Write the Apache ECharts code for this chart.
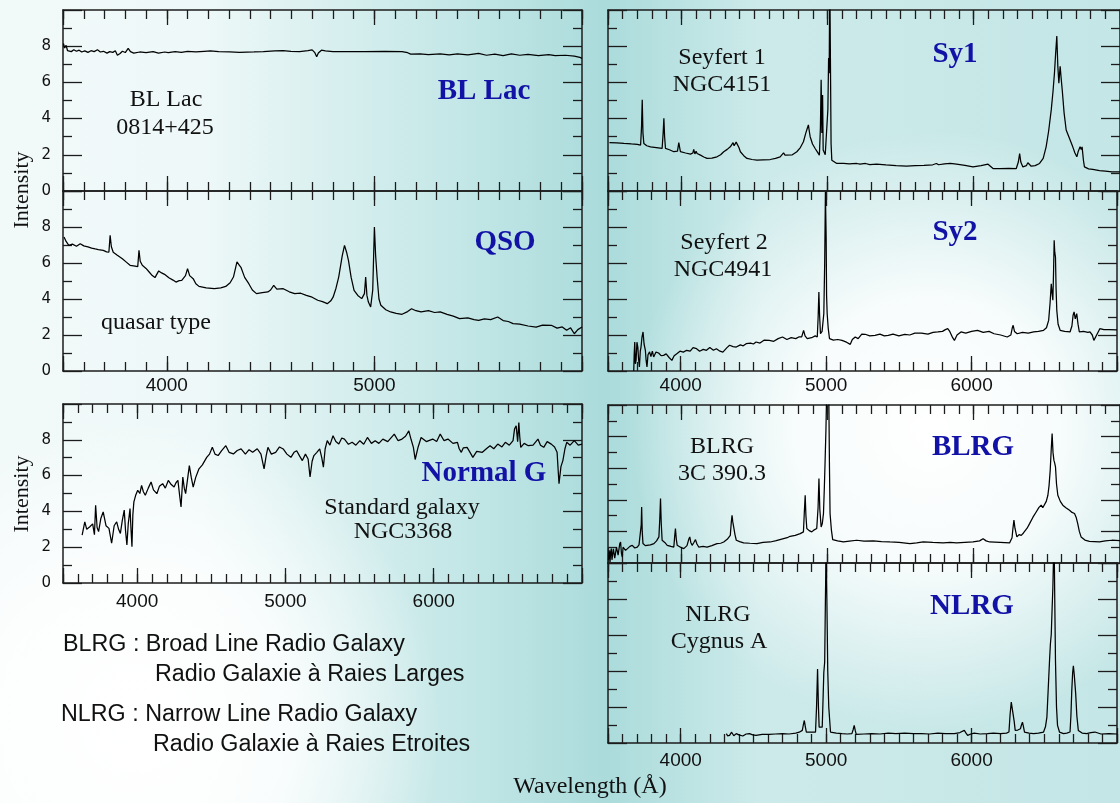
<!DOCTYPE html>
<html>
<head>
<meta charset="utf-8">
<script src="https://cdn.jsdelivr.net/npm/echarts@6/dist/echarts.min.js"></script>
<style>
    html, body {margin: 0; padding: 0; background: #fff;}
    #chart {width: 1120px; height: 803px;}
</style>
</head>
<body>
<div id="chart"></div>
<script>
// spectra, [wavelength (A), intensity]
var blLacSpec = [[3502, 8.15], [3508, 7.9], [3515, 8.05], [3522, 7.75], [3530, 7.85], [3540, 7.7], [3552, 7.8], [3565, 7.72],
    [3578, 7.78], [3590, 7.68], [3605, 7.74], [3620, 7.66], [3635, 7.75], [3650, 7.7], [3666, 7.8], [3680, 7.68], [3695, 7.72],
    [3712, 7.62], [3725, 7.7], [3740, 7.66], [3752, 7.75], [3762, 7.5], [3768, 7.42], [3775, 7.6], [3786, 7.72], [3800, 7.65],
    [3814, 7.88], [3825, 7.7], [3841, 7.62], [3870, 7.68], [3900, 7.64], [3934, 7.7], [3960, 7.62], [3990, 7.68], [4007, 7.64],
    [4040, 7.7], [4070, 7.66], [4100, 7.72], [4140, 7.68], [4180, 7.72], [4210, 7.74], [4250, 7.7], [4303, 7.68], [4350, 7.66],
    [4420, 7.68], [4465, 7.7], [4470, 7.78], [4520, 7.74], [4560, 7.75], [4598, 7.72], [4640, 7.7], [4680, 7.76], [4700, 7.8],
    [4712, 7.66], [4722, 7.42], [4730, 7.62], [4745, 7.78], [4764, 7.74], [4800, 7.7], [4856, 7.7], [4950, 7.7], [5050, 7.72],
    [5133, 7.7], [5160, 7.64], [5175, 7.56], [5220, 7.58], [5260, 7.54], [5317, 7.58], [5360, 7.52], [5400, 7.58], [5450, 7.52],
    [5502, 7.6], [5540, 7.5], [5580, 7.56], [5620, 7.48], [5660, 7.58], [5700, 7.5], [5740, 7.55], [5790, 7.48], [5840, 7.54],
    [5871, 7.48], [5920, 7.5], [5963, 7.45], [5990, 7.38], [6000, 7.33]];

var qsoSpec = [[3505, 7.44], [3515, 7.2], [3528, 6.98], [3545, 7.05], [3565, 6.93], [3583, 7.07], [3600, 6.95], [3620, 6.9],
    [3638, 6.83], [3655, 6.78], [3670, 6.74], [3694, 6.7], [3710, 6.62], [3721, 6.6], [3727, 7.54], [3733, 6.9], [3742, 6.6],
    [3760, 6.45], [3786, 6.24], [3805, 6.05], [3823, 5.87], [3840, 5.84], [3860, 5.8], [3866, 6.7], [3872, 6.1], [3882, 5.87],
    [3900, 5.7], [3915, 5.5], [3930, 5.3], [3943, 5.19], [3961, 5.56], [3975, 5.45], [3989, 5.37], [4010, 5.18], [4030, 5.05],
    [4044, 4.94], [4060, 5.02], [4072, 5.04], [4090, 5.3], [4100, 5.69], [4110, 5.3], [4127, 5.13], [4140, 4.85], [4155, 4.7],
    [4190, 4.62], [4229, 4.57], [4260, 4.62], [4284, 4.7], [4305, 4.9], [4321, 5.22], [4338, 6.06], [4348, 5.9], [4358, 5.74],
    [4375, 5.2], [4395, 4.85], [4412, 4.5], [4432, 4.3], [4460, 4.35], [4487, 4.39], [4500, 4.5], [4515, 4.76], [4530, 4.55],
    [4561, 4.57], [4590, 4.4], [4616, 4.3], [4645, 4.32], [4672, 4.2], [4700, 4.1], [4727, 3.93], [4750, 3.85], [4773, 3.74],
    [4790, 3.9], [4801, 4.1], [4815, 4.6], [4828, 5.22], [4845, 6.4], [4856, 6.98], [4866, 6.6], [4875, 6.15], [4888, 5.2],
    [4902, 4.48], [4920, 4.2], [4939, 4.02], [4952, 4.3], [4958, 5.22], [4964, 4.2], [4971, 3.83], [4982, 3.56], [4992, 4.5],
    [5000, 8.0], [5006, 6.4], [5013, 5.22], [5022, 4.0], [5031, 3.65], [5055, 3.4], [5078, 3.28], [5105, 3.2], [5133, 3.15],
    [5160, 3.3], [5179, 3.46], [5200, 3.35], [5225, 3.28], [5260, 3.35], [5290, 3.25], [5317, 3.28], [5350, 3.15], [5380, 3.05],
    [5410, 2.91], [5450, 2.95], [5480, 2.85], [5502, 2.81], [5530, 2.9], [5560, 2.85], [5594, 3.0], [5620, 2.8], [5645, 2.75],
    [5668, 2.63], [5700, 2.6], [5740, 2.5], [5779, 2.44], [5810, 2.55], [5852, 2.54], [5880, 2.38], [5905, 2.45], [5926, 2.26],
    [5945, 2.4], [5963, 2.07], [5980, 2.3], [6000, 2.44]];

var normalGSpec = [[3629, 2.68], [3647, 3.42], [3660, 3.0], [3681, 3.14], [3700, 3.3], [3712, 2.7], [3720, 4.34], [3730, 3.1],
    [3740, 2.87], [3755, 3.6], [3771, 3.97], [3790, 3.2], [3810, 3.05], [3828, 2.22], [3845, 3.2], [3862, 3.42], [3875, 3.0],
    [3887, 2.77], [3900, 3.5], [3913, 4.07], [3922, 2.9], [3931, 2.13], [3940, 3.3], [3952, 4.16], [3958, 3.1], [3965, 2.03],
    [3971, 3.8], [3978, 4.53], [3990, 4.9], [4004, 5.18], [4018, 5.0], [4030, 5.45], [4042, 5.1], [4055, 4.9], [4075, 5.3],
    [4094, 5.64], [4110, 5.2], [4133, 4.99], [4150, 5.4], [4172, 5.55], [4190, 5.3], [4210, 5.73], [4230, 5.5], [4249, 5.36],
    [4262, 5.6], [4275, 5.73], [4285, 5.0], [4296, 4.25], [4308, 5.92], [4318, 5.3], [4327, 4.99], [4340, 5.8], [4352, 6.56],
    [4365, 5.9], [4378, 5.36], [4395, 5.9], [4417, 6.38], [4440, 6.6], [4469, 7.02], [4488, 7.2], [4507, 7.58], [4525, 7.2],
    [4546, 7.12], [4570, 7.4], [4598, 7.67], [4620, 7.3], [4649, 7.21], [4675, 7.4], [4701, 7.49], [4730, 7.2], [4755, 7.45],
    [4779, 7.3], [4810, 7.5], [4835, 7.2], [4856, 6.38], [4870, 7.1], [4882, 7.58], [4905, 7.2], [4934, 7.3], [4960, 7.6],
    [4985, 7.49], [5010, 7.2], [5037, 7.02], [5058, 7.3], [5076, 7.39], [5095, 7.1], [5114, 6.84], [5135, 7.2], [5153, 6.93],
    [5166, 5.92], [5180, 6.8], [5192, 7.12], [5212, 7.3], [5231, 7.49], [5245, 7.0], [5256, 6.47], [5268, 7.5], [5282, 7.95],
    [5300, 7.7], [5321, 8.23], [5340, 7.9], [5360, 7.76], [5380, 8.1], [5398, 8.04], [5425, 7.75], [5450, 7.86], [5475, 7.7],
    [5502, 7.95], [5528, 7.75], [5553, 8.13], [5580, 7.8], [5605, 7.95], [5630, 7.8], [5657, 8.04], [5690, 7.9], [5734, 8.32],
    [5760, 7.95], [5786, 8.04], [5810, 8.2], [5832, 8.5], [5848, 8.0], [5863, 7.58], [5875, 6.9], [5884, 6.84], [5895, 7.6],
    [5915, 8.13], [5950, 7.9], [5993, 8.04], [6020, 7.9], [6044, 8.32], [6070, 7.95], [6096, 8.04], [6130, 7.8], [6160, 7.86],
    [6172, 7.5], [6186, 7.3], [6200, 7.55], [6225, 7.58], [6245, 7.3], [6264, 7.02], [6290, 7.35], [6328, 7.3], [6355, 7.5],
    [6380, 7.67], [6405, 7.5], [6432, 7.76], [6460, 7.6], [6483, 7.86], [6510, 7.7], [6535, 7.95], [6545, 8.6], [6556, 8.78],
    [6566, 7.9], [6574, 8.96], [6580, 8.2], [6587, 7.58], [6610, 7.8], [6638, 7.67], [6670, 7.7], [6703, 8.04], [6720, 7.7],
    [6742, 7.58], [6765, 7.9], [6793, 7.76], [6815, 7.6], [6832, 7.3], [6840, 6.2], [6845, 5.55], [6858, 6.5], [6871, 6.84],
    [6885, 7.5], [6897, 7.86], [6920, 7.7], [6948, 7.95], [6975, 7.7], [7000, 7.76]];

var sy1Spec = [[3510, 2.67], [3560, 2.66], [3609, 2.63], [3660, 2.6], [3700, 2.58], [3723, 2.54], [3729, 3.5], [3734, 5.04],
    [3739, 3.2], [3745, 2.63], [3765, 2.5], [3791, 2.44], [3830, 2.4], [3870, 2.35], [3877, 3.2], [3882, 4.02], [3887, 3.0],
    [3893, 2.35], [3920, 2.28], [3950, 2.17], [3975, 2.2], [3984, 2.67], [3990, 2.4], [3995, 2.17], [4030, 2.1], [4064, 2.04],
    [4080, 2.1], [4086, 2.3], [4094, 2.05], [4102, 2.2], [4109, 2.07], [4132, 1.98], [4155, 1.88], [4177, 1.8], [4210, 1.82],
    [4245, 1.89], [4270, 2.0], [4291, 2.17], [4315, 2.3], [4336, 2.44], [4355, 2.67], [4362, 2.5], [4370, 2.54], [4376, 2.7],
    [4382, 2.67], [4395, 2.4], [4405, 2.17], [4428, 1.95], [4450, 1.8], [4485, 1.74], [4518, 1.7], [4560, 1.72], [4609, 1.74],
    [4645, 1.8], [4677, 1.89], [4690, 1.95], [4700, 2.11], [4710, 1.98], [4723, 1.89], [4760, 2.0], [4791, 2.17], [4815, 2.4],
    [4836, 2.72], [4852, 3.2], [4862, 3.45], [4870, 3.65], [4876, 3.3], [4882, 3.0], [4898, 2.6], [4916, 2.35], [4932, 2.15],
    [4945, 1.98], [4952, 3.5], [4957, 6.15], [4962, 3.2], [4967, 5.3], [4971, 2.26], [4985, 2.0], [4995, 1.89], [5003, 4.5],
    [5008, 7.35], [5012, 6.5], [5016, 12], [5021, 12], [5025, 2.6], [5030, 1.7], [5064, 1.52], [5110, 1.52], [5150, 1.5],
    [5200, 1.52], [5211, 1.61], [5223, 1.48], [5260, 1.52], [5290, 1.46], [5336, 1.48], [5400, 1.44], [5470, 1.4], [5541, 1.37],
    [5600, 1.4], [5660, 1.42], [5720, 1.45], [5745, 1.52], [5760, 1.45], [5800, 1.5], [5840, 1.52], [5882, 1.48], [5940, 1.42],
    [5995, 1.33], [6050, 1.4], [6098, 1.48], [6110, 1.38], [6132, 1.24], [6180, 1.24], [6240, 1.25], [6291, 1.24], [6305, 1.6],
    [6314, 2.07], [6322, 1.6], [6336, 1.33], [6360, 1.4], [6370, 1.56], [6380, 1.45], [6393, 1.37], [6420, 1.4], [6450, 1.52],
    [6475, 1.8], [6495, 2.44], [6512, 3.3], [6530, 4.48], [6542, 5.5], [6552, 6.52], [6560, 7.6], [6568, 8.56], [6575, 6.9],
    [6582, 5.96], [6587, 6.5], [6591, 6.89], [6597, 6.3], [6605, 5.59], [6618, 4.3], [6632, 3.37], [6655, 2.9], [6677, 2.44],
    [6692, 2.1], [6705, 1.89], [6715, 2.2], [6727, 2.44], [6735, 2.3], [6741, 2.44], [6750, 1.7], [6757, 1.33], [6785, 1.22],
    [6814, 1.19], [6860, 1.12], [6900, 1.1], [6945, 1.06], [7000, 1.05]];

var sy2Spec = [[3677, 0.0], [3680, 0.9], [3684, 1.61], [3688, 0.4], [3693, 0.59], [3699, 1.6], [3705, 1.33], [3710, 0.7],
    [3716, 0.22], [3722, 1.1], [3727, 1.33], [3734, 1.9], [3741, 2.17], [3748, 1.5], [3757, 1.15], [3762, 0.6], [3768, 0.22],
    [3775, 0.9], [3786, 1.06], [3795, 0.8], [3805, 1.1], [3814, 0.78], [3830, 1.05], [3848, 1.0], [3865, 0.85], [3882, 0.87],
    [3900, 0.95], [3920, 0.75], [3939, 0.59], [3955, 0.85], [3973, 0.96], [3995, 1.1], [4018, 1.05], [4041, 1.15], [4065, 1.1],
    [4085, 1.3], [4109, 1.24], [4130, 1.1], [4155, 1.2], [4177, 1.15], [4200, 1.3], [4225, 1.15], [4245, 1.24], [4270, 1.1],
    [4290, 1.05], [4302, 0.96], [4318, 1.3], [4336, 1.43], [4360, 1.35], [4382, 1.33], [4410, 1.45], [4430, 1.4], [4450, 1.52],
    [4480, 1.55], [4500, 1.5], [4518, 1.61], [4545, 1.55], [4575, 1.72], [4609, 1.7], [4640, 1.65], [4670, 1.8], [4700, 1.89],
    [4730, 1.75], [4760, 1.85], [4791, 1.8], [4815, 1.9], [4832, 1.9], [4845, 2.26], [4855, 1.95], [4870, 1.8], [4900, 1.85],
    [4925, 1.95], [4939, 1.89], [4945, 3.0], [4950, 4.39], [4955, 3.1], [4961, 2.07], [4972, 2.2], [4984, 3.19], [4990, 6.0],
    [4995, 9.94], [5000, 7.5], [5003, 4.2], [5007, 3.19], [5014, 2.4], [5023, 1.8], [5050, 1.72], [5080, 1.75], [5109, 1.7],
    [5140, 1.6], [5166, 1.48], [5180, 1.75], [5200, 1.89], [5220, 1.8], [5245, 2.05], [5268, 2.04], [5300, 1.95], [5336, 1.98],
    [5370, 2.05], [5400, 1.95], [5427, 1.98], [5460, 2.05], [5500, 1.95], [5541, 2.04], [5575, 2.0], [5610, 2.1], [5655, 2.11],
    [5700, 2.05], [5735, 2.15], [5768, 2.17], [5800, 2.2], [5820, 2.3], [5836, 2.35], [5850, 2.2], [5870, 1.85], [5882, 1.7],
    [5900, 2.0], [5927, 2.17], [5960, 2.1], [6000, 2.2], [6041, 2.26], [6080, 2.15], [6120, 2.2], [6155, 2.07], [6200, 2.0],
    [6245, 1.89], [6270, 2.0], [6280, 2.4], [6286, 2.54], [6295, 2.2], [6314, 2.07], [6350, 2.15], [6390, 2.1], [6427, 2.17],
    [6460, 2.2], [6495, 2.26], [6515, 2.4], [6530, 2.81], [6540, 3.8], [6548, 4.85], [6554, 4.3], [6559, 3.93], [6564, 5.6],
    [6568, 7.26], [6572, 6.6], [6577, 6.33], [6581, 4.6], [6586, 3.37], [6595, 2.6], [6609, 2.26], [6640, 2.2], [6677, 2.17],
    [6690, 2.5], [6698, 3.1], [6705, 3.28], [6713, 2.9], [6723, 3.19], [6732, 2.6], [6741, 2.17], [6770, 2.2], [6800, 2.15],
    [6814, 2.17], [6830, 2.0], [6841, 1.7], [6860, 2.0], [6882, 2.35], [6910, 2.3], [6945, 2.3], [7000, 2.28]];

var blrgSpec = [[3503, 0.2], [3508, 0.8], [3514, 0.06], [3518, 0.7], [3523, 0.91], [3527, 0.2], [3532, 0.17], [3537, 0.9],
    [3541, 1.01], [3546, 0.3], [3552, 0.27], [3558, 1.0], [3564, 1.12], [3569, 0.5], [3575, 0.59], [3580, 1.2], [3586, 1.33],
    [3592, 0.6], [3598, 0.38], [3603, 1.0], [3609, 1.01], [3620, 0.8], [3632, 0.91], [3650, 1.05], [3666, 1.12], [3683, 0.95],
    [3700, 1.01], [3712, 1.15], [3723, 1.23], [3727, 2.4], [3730, 3.55], [3734, 2.0], [3739, 1.23], [3755, 1.1], [3768, 1.01],
    [3790, 1.15], [3814, 1.23], [3832, 1.4], [3848, 1.65], [3854, 2.8], [3859, 4.08], [3864, 2.5], [3870, 1.44], [3888, 1.3],
    [3905, 1.12], [3930, 1.05], [3950, 1.01], [3956, 1.7], [3961, 2.18], [3967, 1.5], [3973, 1.12], [3995, 1.0], [4018, 0.91],
    [4040, 1.1], [4052, 1.5], [4059, 1.65], [4066, 1.3], [4075, 1.12], [4087, 1.3], [4098, 1.48], [4108, 1.2], [4120, 1.01],
    [4150, 1.05], [4177, 1.01], [4210, 1.1], [4245, 1.23], [4270, 1.25], [4291, 1.33], [4315, 1.5], [4336, 1.75], [4343, 2.6],
    [4348, 3.02], [4353, 2.6], [4359, 2.28], [4368, 1.8], [4377, 1.44], [4400, 1.35], [4427, 1.27], [4470, 1.25], [4518, 1.23],
    [4560, 1.3], [4609, 1.33], [4650, 1.42], [4700, 1.54], [4725, 1.6], [4745, 1.69], [4780, 1.75], [4814, 1.86], [4836, 1.97],
    [4842, 3.2], [4848, 4.29], [4853, 3.0], [4859, 2.18], [4875, 2.05], [4893, 1.97], [4910, 2.1], [4927, 2.18], [4936, 3.5],
    [4942, 5.35], [4948, 3.4], [4957, 2.28], [4965, 2.5], [4973, 3.13], [4979, 4.8], [4984, 6.41], [4990, 8.5], [4995, 11],
    [5002, 11], [5009, 11], [5014, 6.0], [5018, 3.13], [5027, 2.1], [5036, 1.48], [5070, 1.4], [5109, 1.33], [5150, 1.38],
    [5200, 1.44], [5250, 1.38], [5314, 1.4], [5370, 1.36], [5427, 1.33], [5490, 1.3], [5564, 1.23], [5610, 1.28], [5655, 1.33],
    [5720, 1.3], [5791, 1.27], [5840, 1.3], [5882, 1.27], [5940, 1.3], [5995, 1.33], [6040, 1.4], [6064, 1.54], [6085, 1.4],
    [6109, 1.33], [6180, 1.3], [6245, 1.27], [6262, 1.6], [6268, 2.18], [6275, 2.71], [6282, 2.2], [6295, 1.65], [6310, 1.8],
    [6325, 1.75], [6340, 1.9], [6348, 1.97], [6365, 2.2], [6382, 2.49], [6405, 2.9], [6427, 3.23], [6445, 3.5], [6461, 3.66],
    [6472, 3.5], [6484, 3.55], [6496, 3.9], [6507, 4.29], [6515, 4.9], [6523, 5.88], [6530, 7.2], [6536, 8.2], [6542, 7.0],
    [6548, 6.51], [6554, 6.3], [6559, 6.09], [6566, 5.0], [6575, 4.29], [6592, 3.9], [6609, 3.66], [6630, 3.5], [6655, 3.34],
    [6672, 3.2], [6689, 3.13], [6700, 2.9], [6711, 2.49], [6722, 2.0], [6734, 1.65], [6760, 1.45], [6791, 1.37], [6825, 1.35],
    [6859, 1.33], [6900, 1.4], [6945, 1.44], [7000, 1.42]];

var nlrgSpec = [[4314, 0.52], [4322, 0.4], [4336, 0.42], [4350, 0.6], [4365, 0.4], [4382, 0.52], [4400, 0.45], [4427, 0.39],
    [4450, 0.5], [4473, 0.52], [4495, 0.45], [4518, 0.42], [4560, 0.48], [4609, 0.48], [4650, 0.5], [4700, 0.52], [4745, 0.5],
    [4791, 0.55], [4815, 0.6], [4836, 0.7], [4843, 1.0], [4850, 1.25], [4857, 0.9], [4864, 0.61], [4895, 0.6], [4927, 0.61],
    [4934, 2.0], [4941, 4.11], [4947, 2.0], [4952, 0.88], [4965, 0.8], [4973, 0.88], [4979, 2.5], [4984, 3.92], [4990, 4.5],
    [4995, 8.0], [5000, 11], [5005, 8.0], [5011, 4.01], [5018, 2.0], [5030, 0.61], [5070, 0.55], [5109, 0.52], [5145, 0.5],
    [5177, 0.52], [5186, 0.75], [5193, 0.98], [5200, 0.7], [5207, 0.48], [5260, 0.5], [5314, 0.52], [5370, 0.5], [5427, 0.55],
    [5480, 0.52], [5541, 0.55], [5600, 0.52], [5655, 0.52], [5710, 0.5], [5768, 0.55], [5820, 0.52], [5882, 0.52], [5920, 0.58],
    [5950, 0.7], [5962, 0.55], [5973, 0.42], [5995, 0.5], [6018, 0.55], [6060, 0.5], [6109, 0.52], [6150, 0.55], [6200, 0.52],
    [6240, 0.55], [6257, 0.61], [6265, 1.6], [6273, 2.27], [6280, 2.17], [6286, 2.17], [6293, 1.2], [6300, 0.7], [6318, 0.72],
    [6336, 0.79], [6343, 1.0], [6350, 1.16], [6357, 0.9], [6364, 0.61], [6395, 0.55], [6427, 0.52], [6460, 0.55], [6495, 0.61],
    [6508, 0.9], [6518, 1.44], [6527, 3.0], [6536, 4.57], [6542, 5.5], [6548, 6.04], [6554, 7.5], [6559, 8.62], [6564, 10.5],
    [6568, 11], [6572, 8.0], [6577, 4.57], [6584, 2.0], [6591, 0.98], [6605, 0.6], [6632, 0.52], [6655, 0.55], [6677, 0.61],
    [6683, 1.5], [6689, 2.91], [6695, 3.9], [6700, 4.29], [6706, 3.8], [6716, 2.73], [6724, 1.5], [6734, 0.7], [6760, 0.55],
    [6791, 0.52], [6820, 0.58], [6848, 0.61], [6890, 0.5], [6945, 0.52], [7000, 0.5]];

// tick steps (Angstrom / intensity)
var xMinorStep = 100;
var xMajorStep = 1000;
var yMajorStep = 2;

var AXIS_COLOR = '#1c1c1c';
var BLUE = '#1212a6';
var SERIF = '"Liberation Serif", "DejaVu Serif", serif';
var SANS = '"Liberation Sans", Arial, sans-serif';

// panel layout
var panels = [
    {spec: blLacSpec, left: 63, top: 10, width: 519, height: 181, xMin: 3500, xMax: 6000, xLabel: false, yLabel: true},
    {spec: qsoSpec, left: 63, top: 191, width: 519, height: 180, xMin: 3500, xMax: 6000, xLabel: true, yLabel: true, margin: 5},
    {spec: normalGSpec, left: 63, top: 404, width: 519, height: 179, xMin: 3500, xMax: 7000, xLabel: true, yLabel: true, margin: 9},
    {spec: sy1Spec, left: 608, top: 10, width: 518, height: 181, xMin: 3500, xMax: 7000, xLabel: false, yLabel: false},
    {spec: sy2Spec, left: 608, top: 191, width: 518, height: 180, xMin: 3500, xMax: 7000, xLabel: true, yLabel: false, margin: 5},
    {spec: blrgSpec, left: 608, top: 405, width: 518, height: 158, xMin: 3500, xMax: 7000, xLabel: false, yLabel: false},
    {spec: nlrgSpec, left: 608, top: 563, width: 518, height: 180, xMin: 3500, xMax: 7000, xLabel: true, yLabel: false, margin: 8}
];

var lineStyle = {color: AXIS_COLOR, width: 1.5};
var tickStyle = {color: AXIS_COLOR, width: 1.3};

// short ticks every 100 A, labels only on the thousands
function minorXAxis(p, i, pos, withLabel) {
    return {
        gridIndex: i, type: 'value', position: pos, min: p.xMin, max: p.xMax, interval: xMinorStep,
        axisLine: {show: true, onZero: false, lineStyle: lineStyle},
        axisTick: {show: true, inside: true, length: 9, lineStyle: tickStyle},
        axisLabel: {
            show: withLabel, margin: p.margin || 6, color: '#111', fontFamily: SANS, fontSize: 19,
            formatter: function (v) {
                return (v % xMajorStep === 0 && v > p.xMin && v < p.xMax) ? String(v) : '';
            }
        },
        splitLine: {show: false}
    };
}

// long ticks on the thousands: no fixed interval, so the nice ticks land on multiples of 1000
function majorXAxis(p, i, pos) {
    return {
        gridIndex: i, type: 'value', position: pos, min: p.xMin, max: p.xMax,
        splitNumber: 3, minInterval: xMajorStep, maxInterval: xMajorStep,
        axisLine: {show: false, onZero: false},
        axisTick: {show: true, inside: true, length: 15, lineStyle: tickStyle},
        axisLabel: {show: false},
        splitLine: {show: false}
    };
}

function yAxisFor(p, i, pos, withLabel) {
    return {
        gridIndex: i, type: 'value', position: pos, min: 0, max: 10, interval: yMajorStep,
        axisLine: {show: true, onZero: false, lineStyle: lineStyle},
        axisTick: {show: true, inside: true, length: 19, lineStyle: tickStyle},
        minorTick: {show: true, splitNumber: 2, length: 9, lineStyle: tickStyle},
        axisLabel: {
            show: withLabel, margin: 12, color: '#111', fontFamily: '"DejaVu Sans", sans-serif', fontSize: 15,
            formatter: function (v) { return v < 10 ? String(v) : ''; }
        },
        splitLine: {show: false},
        minorSplitLine: {show: false}
    };
}

var grids = [], xAxes = [], yAxes = [], series = [];
for (let i = 0; i < panels.length; i++) {
    let p = panels[i];
    grids.push({left: p.left, top: p.top, width: p.width, height: p.height, show: false});
    let xIdx = xAxes.length;
    xAxes.push(minorXAxis(p, i, 'bottom', p.xLabel));
    xAxes.push(majorXAxis(p, i, 'bottom'));
    xAxes.push(minorXAxis(p, i, 'top', false));
    xAxes.push(majorXAxis(p, i, 'top'));
    let yIdx = yAxes.length;
    yAxes.push(yAxisFor(p, i, 'left', p.yLabel));
    yAxes.push(yAxisFor(p, i, 'right', false));
    series.push({
        type: 'line', xAxisIndex: xIdx, yAxisIndex: yIdx, data: p.spec,
        showSymbol: false, symbol: 'none', clip: true, silent: true,
        lineStyle: {color: '#000', width: 1.25}, z: 5
    });
}

// texts
function txt(s, x, y, font, color, align, extra) {
    let el = {
        type: 'text', z: 50, x: x, y: y,
        style: {text: s, font: font, fill: color || '#111', textAlign: align || 'center', textVerticalAlign: 'middle'}
    };
    if (extra) Object.assign(el, extra);
    return el;
}

var blackFont = '24px ' + SERIF;
var blueFont = 'bold 29px ' + SERIF;
var legendFont = '23.3px ' + SANS;

var graphics = [
    {type: 'rect', z: -10, silent: true, shape: {x: 0, y: 0, width: 1120, height: 803},
        style: {fill: new echarts.graphic.LinearGradient(0, 0, 1, 0, [
            {offset: 0, color: '#f2f9f9'}, {offset: 0.18, color: '#eef8f8'}, {offset: 0.42, color: '#c2e6e6'},
            {offset: 0.54, color: '#abdbdb'}, {offset: 0.68, color: '#cdeaea'}, {offset: 1, color: '#c4e6e6'}])}},
    {type: 'circle', z: -9, silent: true, shape: {cx: 930, cy: 430, r: 300},
        style: {fill: new echarts.graphic.RadialGradient(0.5, 0.5, 0.5, [
            {offset: 0, color: 'rgba(255,255,255,1)'}, {offset: 0.45, color: 'rgba(255,255,255,0.85)'},
            {offset: 1, color: 'rgba(255,255,255,0)'}])}},
    {type: 'circle', z: -9, silent: true, shape: {cx: 140, cy: 720, r: 300},
        style: {fill: new echarts.graphic.RadialGradient(0.5, 0.5, 0.5, [
            {offset: 0, color: 'rgba(255,255,255,1)'}, {offset: 0.5, color: 'rgba(255,255,255,0.8)'},
            {offset: 1, color: 'rgba(255,255,255,0)'}])}},

    txt('BL Lac', 166, 100, blackFont), txt('0814+425', 165, 128, blackFont),
    txt('BL Lac', 484, 92, blueFont, BLUE),
    txt('QSO', 505, 243, blueFont, BLUE), txt('quasar type', 156, 323, blackFont),
    txt('Normal G', 484, 474, blueFont, BLUE),
    txt('Standard galaxy', 402, 508, blackFont), txt('NGC3368', 403, 532, blackFont),
    txt('Seyfert 1', 722, 58, blackFont), txt('NGC4151', 722, 85, blackFont), txt('Sy1', 955, 55, blueFont, BLUE),
    txt('Seyfert 2', 724, 243, blackFont), txt('NGC4941', 723, 270, blackFont), txt('Sy2', 955, 233, blueFont, BLUE),
    txt('BLRG', 722, 447, blackFont), txt('3C 390.3', 722, 474, blackFont), txt('BLRG', 973, 448, blueFont, BLUE),
    txt('NLRG', 718, 615, blackFont), txt('Cygnus A', 719, 642, blackFont), txt('NLRG', 972, 607, blueFont, BLUE),

    txt('Intensity', 22, 190, '22px ' + SERIF, '#111', 'center', {rotation: Math.PI / 2}),
    txt('Intensity', 22, 494, '22px ' + SERIF, '#111', 'center', {rotation: Math.PI / 2}),
    txt('Wavelength (Å)', 590, 787, '24px ' + SERIF),

    txt('BLRG : Broad Line Radio Galaxy', 63, 645, legendFont, '#111', 'left'),
    txt('Radio Galaxie à Raies Larges', 155, 675, legendFont, '#111', 'left'),
    txt('NLRG : Narrow Line Radio Galaxy', 61, 715, legendFont, '#111', 'left'),
    txt('Radio Galaxie à Raies Etroites', 153, 745, legendFont, '#111', 'left')
];

var myChart = echarts.init(document.getElementById('chart'), null, {renderer: 'canvas', width: 1120, height: 803});
myChart.setOption({
    animation: false,
    backgroundColor: '#ffffff',
    grid: grids,
    xAxis: xAxes,
    yAxis: yAxes,
    series: series,
    graphic: graphics
});
</script>
</body>
</html>
